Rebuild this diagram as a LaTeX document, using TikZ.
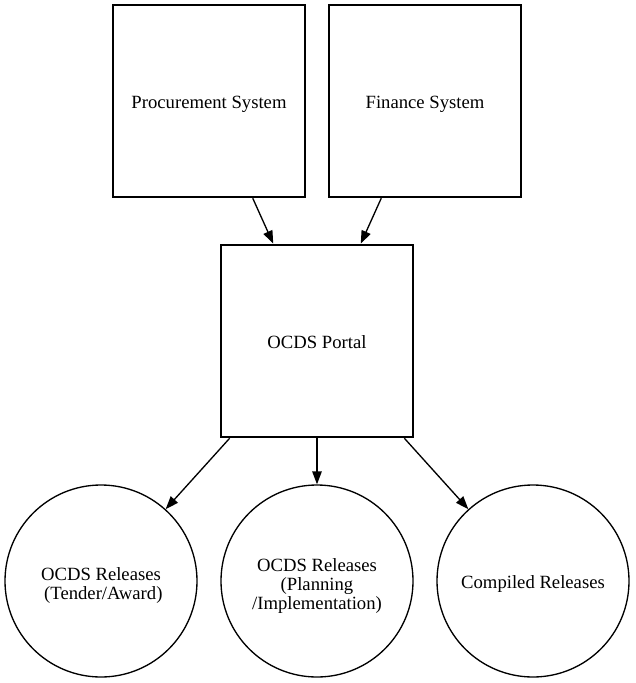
\documentclass[tikz,border=0pt]{standalone}
\usepackage{fontspec}
\setmainfont{Liberation Serif}
\usetikzlibrary{arrows.meta}
\begin{document}
\begin{tikzpicture}[x=1pt,y=-1pt,
  label font/.style={font=\fontsize{18.67pt}{19pt}\selectfont,align=center},
  sysbox/.style={draw,line width=2.5pt,rectangle,minimum width=192pt,minimum height=192pt,inner sep=0pt,label font,text height=14pt,text depth=0pt},
  relcircle/.style={draw,line width=1.33pt,circle,minimum size=192pt,inner sep=0pt,label font},
  oneline/.style={text height=14pt,text depth=0pt},
  twolines/.style={text height=36pt,text depth=0pt},
  threelines/.style={text height=57pt,text depth=0pt},
  flow/.style={line width=1.33pt,-{Triangle[length=13pt,width=9.5pt]}}]
\useasboundingbox (0,0) rectangle (635,683);
\node[sysbox] (proc) at (209,101) {Procurement System};
\node[sysbox] (fin) at (425,101) {Finance System};
\node[sysbox] (portal) at (317,341) {OCDS Portal};
\node[relcircle,twolines] (tender) at (101,581) {OCDS Releases\\\ (Tender/Award)};
\node[relcircle,threelines] (plan) at (317,581) {OCDS Releases\\(Planning\\/Implementation)};
\node[relcircle,oneline] (compiled) at (533,581) {Compiled Releases};
\draw[flow] (proc) -- (portal);
\draw[flow] (fin) -- (portal);
\draw[flow] (portal) -- (tender);
\draw[flow] (portal) -- (plan);
\draw[flow] (portal) -- (compiled);
\end{tikzpicture}
\end{document}
